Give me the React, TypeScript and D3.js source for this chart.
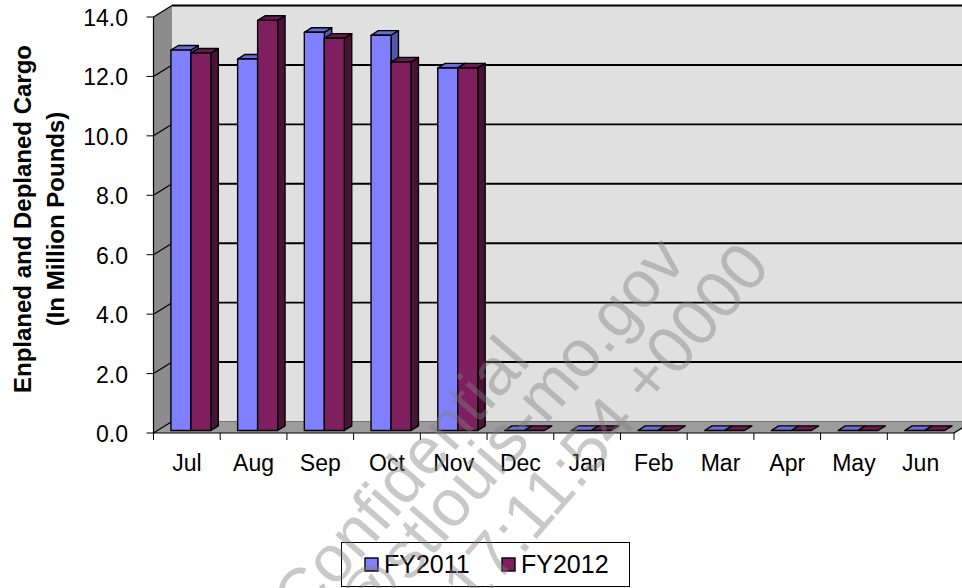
import { useEffect, useRef } from 'react';
import * as d3 from 'd3';

// Monthly cargo, in million pounds
const months = ['Jul', 'Aug', 'Sep', 'Oct', 'Nov', 'Dec', 'Jan', 'Feb', 'Mar', 'Apr', 'May', 'Jun'];
const fy2011 = [12.8, 12.5, 13.4, 13.3, 12.2, 0, 0, 0, 0, 0, 0, 0];
const fy2012 = [12.7, 13.8, 13.2, 12.4, 12.2, 0, 0, 0, 0, 0, 0, 0];
const seriesNames = ['FY2011', 'FY2012'];
const yTicks = [0, 2, 4, 6, 8, 10, 12, 14];
const watermarkLines = ['Confidential', '@stlouis-mo.gov', '17:11:54 +0000'];

const FONT = '"Liberation Sans", Arial, sans-serif';

const App = () => {
  const ref = useRef<HTMLDivElement>(null);

  useEffect(() => {
    if (!ref.current) return;
    d3.select(ref.current).selectAll('svg').remove();

    const W = 962;
    const H = 588;
    const svg = d3.select(ref.current)
      .append('svg')
      .attr('width', W)
      .attr('height', H)
      .style('position', 'absolute')
      .style('left', '0px')
      .style('top', '0px')
      .style('background', '#fff');

    // 3D box: front plane + depth offset
    const left = 153.5;
    const right = 954;
    const dx = 18.5;
    const dy = -11.5;

    const x = d3.scaleBand().domain(months).range([left, right]);
    const inner = d3.scaleBand().domain(seriesNames).range([-20, 20]);
    const y = d3.scaleLinear().domain([0, 14]).range([433, 17]);
    const y0 = y(0);

    const pts = (p: number[][]) => p.map(d => d.join(',')).join(' ');

    // side wall
    svg.append('polygon')
      .attr('points', pts([[left, y0], [left, y(14)], [left + dx, y(14) + dy], [left + dx, y0 + dy]]))
      .attr('fill', '#8c8c8c');
    // back wall
    svg.append('rect')
      .attr('x', left + dx).attr('y', y(14) + dy)
      .attr('width', W - left - dx + 10).attr('height', y0 - y(14))
      .attr('fill', '#e0e0e0');
    // floor
    svg.append('polygon')
      .attr('points', pts([[left, y0], [right, y0], [right + dx, y0 + dy], [left + dx, y0 + dy]]))
      .attr('fill', '#9c9c9c');
    svg.append('line')
      .attr('x1', left + dx).attr('x2', right + dx)
      .attr('y1', y0 + dy).attr('y2', y0 + dy)
      .attr('stroke', '#777').attr('stroke-width', 1);

    // gridlines on back wall and side wall
    yTicks.filter(v => v > 0).forEach(v => {
      svg.append('line')
        .attr('x1', left + dx).attr('x2', W + 10)
        .attr('y1', y(v) + dy).attr('y2', y(v) + dy)
        .attr('stroke', '#000').attr('stroke-width', 1.9);
      svg.append('line')
        .attr('x1', left).attr('x2', left + dx)
        .attr('y1', y(v)).attr('y2', y(v) + dy)
        .attr('stroke', '#000').attr('stroke-width', 1.2);
    });
    // floor edges
    svg.append('line')
      .attr('x1', left).attr('x2', left + dx)
      .attr('y1', y0).attr('y2', y0 + dy)
      .attr('stroke', '#000').attr('stroke-width', 1.2);
    svg.append('line')
      .attr('x1', right).attr('x2', right + dx)
      .attr('y1', y0).attr('y2', y0 + dy)
      .attr('stroke', '#000').attr('stroke-width', 1.2);

    // y axis
    svg.append('line')
      .attr('x1', left).attr('x2', left)
      .attr('y1', y(14)).attr('y2', y0)
      .attr('stroke', '#000').attr('stroke-width', 1.2);
    yTicks.forEach(v => {
      svg.append('line')
        .attr('x1', left - 7).attr('x2', left)
        .attr('y1', y(v)).attr('y2', y(v))
        .attr('stroke', '#000').attr('stroke-width', 1);
      svg.append('text')
        .attr('x', 128).attr('y', y(v) + 9)
        .attr('text-anchor', 'end')
        .style('font-family', FONT).style('font-size', '23px')
        .attr('fill', '#000')
        .text(v.toFixed(1));
    });

    // x axis
    svg.append('line')
      .attr('x1', left).attr('x2', right)
      .attr('y1', y0).attr('y2', y0)
      .attr('stroke', '#000').attr('stroke-width', 1.2);
    [...months.map(m => x(m) as number), right].forEach(t => {
      svg.append('line')
        .attr('x1', t).attr('x2', t)
        .attr('y1', y0).attr('y2', y0 + 7)
        .attr('stroke', '#000').attr('stroke-width', 1);
    });
    months.forEach(m => {
      svg.append('text')
        .attr('x', (x(m) as number) + x.bandwidth() / 2)
        .attr('y', 471)
        .attr('text-anchor', 'middle')
        .style('font-family', FONT).style('font-size', '23px')
        .attr('fill', '#000')
        .text(m);
    });

    // bars
    const colors: Record<string, { front: string; top: string; side: string }> = {
      FY2011: { front: '#8080ff', top: '#6b6bd6', side: '#5656ac' },
      FY2012: { front: '#801f5f', top: '#69194e', side: '#4b1238' },
    };
    const off = [dx * 0.22, dy * 0.22];
    const bd = [dx * 0.4, dy * 0.4];
    const bw = inner.bandwidth();

    months.forEach((m, i) => {
      const cx = (x(m) as number) + x.bandwidth() / 2;
      [[seriesNames[0], fy2011[i]], [seriesNames[1], fy2012[i]]].forEach(([s, v]) => {
        const c = colors[s as string];
        const x0 = cx + (inner(s as string) as number) + off[0];
        const x1 = x0 + bw;
        const yb = y0 + off[1];
        const yt = y(v as number) + off[1];
        const g = svg.append('g')
          .attr('stroke', '#000').attr('stroke-width', 1.4).attr('stroke-linejoin', 'round');
        if (yb - yt > 0.5) {
          g.append('polygon')
            .attr('points', pts([[x1, yt], [x1 + bd[0], yt + bd[1]], [x1 + bd[0], yb + bd[1]], [x1, yb]]))
            .attr('fill', c.side);
        }
        g.append('polygon')
          .attr('points', pts([[x0, yt], [x1, yt], [x1 + bd[0], yt + bd[1]], [x0 + bd[0], yt + bd[1]]]))
          .attr('fill', c.top);
        if (yb - yt > 0.5) {
          g.append('rect')
            .attr('x', x0).attr('y', yt)
            .attr('width', bw).attr('height', yb - yt)
            .attr('fill', c.front);
        }
      });
    });

    // y axis title
    const title = svg.append('text')
      .attr('transform', 'translate(0,219) rotate(-90)')
      .attr('text-anchor', 'middle')
      .style('font-family', FONT).style('font-size', '24px').style('font-weight', 'bold')
      .attr('fill', '#000');
    title.append('tspan').attr('x', 0).attr('y', 31).text('Enplaned and Deplaned Cargo');
    title.append('tspan').attr('x', 0).attr('y', 64).text('(In Million Pounds)');

    // legend
    const lg = svg.append('g');
    lg.append('rect')
      .attr('x', 341.5).attr('y', 542.5)
      .attr('width', 288).attr('height', 44)
      .attr('fill', '#fff').attr('stroke', '#000').attr('stroke-width', 1);
    const legendX = [365, 502];
    seriesNames.forEach((s, i) => {
      lg.append('rect')
        .attr('x', legendX[i]).attr('y', 558)
        .attr('width', 13).attr('height', 13)
        .attr('fill', colors[s].front)
        .attr('stroke', '#000').attr('stroke-width', 1.4);
      lg.append('text')
        .attr('x', legendX[i] + 19).attr('y', 573)
        .style('font-family', FONT).style('font-size', '25px')
        .attr('fill', '#000')
        .text(s);
    });

    // watermark
    const wmEnds = [[532, 362], [688, 262], [772, 268]];
    const wm = svg.append('g').attr('opacity', 0.42);
    watermarkLines.forEach((t, i) => {
      wm.append('text')
        .attr('transform', `translate(${wmEnds[i][0]},${wmEnds[i][1]}) rotate(-49)`)
        .attr('text-anchor', 'end')
        .style('font-family', FONT).style('font-size', '66px')
        .attr('fill', '#7f7f7f')
        .text(t);
    });
  }, []);

  return <div ref={ref} style={{ width: 962, height: 588 }} />;
};

export default App;
